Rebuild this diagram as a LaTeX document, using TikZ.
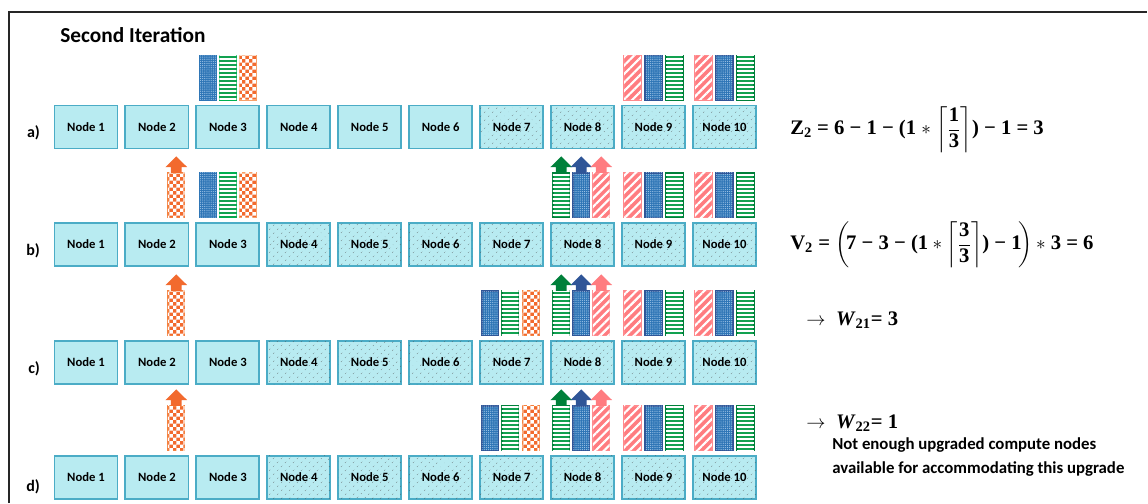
\documentclass[tikz,border=0pt]{standalone}
\usepackage[no-math]{fontspec}
\setmainfont{Carlito}
\newfontfamily\eqfont{Liberation Serif}
\usepackage{amsmath}
\usepackage{tikz}
\usetikzlibrary{positioning,patterns,patterns.meta}

\definecolor{nodefill}{HTML}{B8EBF1}
\definecolor{nodeline}{HTML}{4BACC6}
\definecolor{bluefill}{HTML}{2E75B6}
\definecolor{bluedark}{HTML}{2F5597}
\definecolor{bluedot}{HTML}{9DC3E6}
\definecolor{greenfill}{HTML}{12A150}
\definecolor{greendark}{HTML}{00803A}
\definecolor{greenlight}{HTML}{00B050}
\definecolor{orangefill}{HTML}{F26A2E}
\definecolor{orangeline}{HTML}{F4813F}
\definecolor{orangelight}{HTML}{F7A06A}
\definecolor{pinkfill}{HTML}{FF7C80}
\definecolor{pinkline}{HTML}{FF8A8D}

\pgfdeclarepatternformonly{bigchecker}{\pgfpointorigin}{\pgfqpoint{5.2pt}{5.2pt}}{\pgfqpoint{5.2pt}{5.2pt}}{%
  \pgfpathrectangle{\pgfpointorigin}{\pgfqpoint{2.6pt}{2.6pt}}%
  \pgfpathrectangle{\pgfqpoint{2.6pt}{2.6pt}}{\pgfqpoint{2.6pt}{2.6pt}}%
  \pgfusepath{fill}}

\begin{document}
\begin{tikzpicture}[
    x=0.75pt, y=-0.75pt,
    cnode/.style={draw=nodeline, fill=nodefill, line width=1.4pt, inner sep=0pt,
      minimum width=47.3pt, minimum height=32.3pt, font=\fontsize{9.5}{11}\selectfont\bfseries},
    dnode/.style={cnode, postaction={pattern={Dots[radius=0.35pt, distance=4pt, angle=45]}, pattern color=black!70}},
    bar/.style={line width=1.1pt, inner sep=0pt, minimum width=12.6pt, minimum height=33.3pt},
    bluebar/.style={bar, draw=bluedark, fill=bluefill,
      postaction={pattern={Dots[radius=0.45pt, distance=1.6pt]}, pattern color=bluedot}},
    greenbar/.style={bar, draw=greendark, fill=greenfill,
      postaction={pattern={Lines[angle=0, distance=3pt, line width=0.9pt]}, pattern color=white}},
    orangebar/.style={bar, draw=orangeline, fill=orangefill,
      postaction={pattern=bigchecker, pattern color=white}},
    pinkbar/.style={bar, draw=pinkline, fill=pinkfill,
      postaction={pattern={Lines[angle=45, distance=4.5pt, line width=1.6pt]}, pattern color=white}},
    rowlabel/.style={inner sep=1pt, font=\fontsize{12}{14}\selectfont\bfseries},
    eqn/.style={inner sep=0pt, anchor=west, font=\eqfont\fontsize{15.5}{19}\selectfont\bfseries},
    pics/uphead/.style={code={\fill[#1] (-4pt,-0.5pt) -- (-4pt,3.75pt) -- (-8.2pt,3.75pt) -- (0pt,11.8pt)
      -- (8.2pt,3.75pt) -- (4pt,3.75pt) -- (4pt,-0.5pt) -- cycle;}}
  ]
  \useasboundingbox (0,0) rectangle (1148,503);
  \draw[line width=1.5pt, black!85] (9,503) -- (9,12) -- (1147,12);

  \node[anchor=west, inner sep=0pt, font=\fontsize{16}{19}\selectfont\bfseries] (title) at (60,35) {Second Iteration};

  % compute nodes
  \foreach \i in {1,...,6} \node[cnode] (a\i) at ({86+(\i-1)*70.94},127) {Node \i};
  \foreach \i in {7,...,10} \node[dnode] (a\i) at ({86+(\i-1)*70.94},127) {Node \i};
  \foreach \r/\yy in {b/244.5,c/362.5,d/477.5} {
    \foreach \i in {1,2,3} \node[cnode] (\r\i) at ({86+(\i-1)*70.94},\yy) {Node \i};
    \foreach \i in {4,...,10} \node[dnode] (\r\i) at ({86+(\i-1)*70.94},\yy) {Node \i};
  }

  \node[rowlabel, left=9pt of a1, yshift=-4.5pt] (la) {a)};
  \node[rowlabel, left=9pt of b1, yshift=-4.5pt] (lb) {b)};
  \node[rowlabel, left=9pt of c1, yshift=-4.5pt] (lc) {c)};
  \node[rowlabel, left=9pt of d1, yshift=-7pt] (ld) {d)};

  % VMs on node 3 (a, b)
  \foreach \n in {a3,b3} {
    \node[bluebar, draw=bluefill, above=3pt of \n, xshift=-15pt] (b\n) {};
    \node[greenbar, draw=greenlight, above=3pt of \n] (g\n) {};
    \node[orangebar, draw=orangelight, above=3pt of \n, xshift=15pt] (o\n) {};
  }
  % VMs on node 7 (c, d)
  \foreach \n in {c7,d7} {
    \node[bluebar, above=3pt of \n, xshift=-16pt] (b\n) {};
    \node[greenbar, above=3pt of \n, xshift=-1pt] (g\n) {};
    \node[orangebar, above=3pt of \n, xshift=14.5pt] (o\n) {};
  }
  % VMs on nodes 9 and 10
  \foreach \n in {a9,a10,b9,b10,c9,c10,d9,d10} {
    \node[pinkbar, above=3pt of \n, xshift=-15.75pt] (p\n) {};
    \node[bluebar, above=3pt of \n] (b\n) {};
    \node[greenbar, above=3pt of \n, xshift=15.75pt] (g\n) {};
  }
  % upgraded VMs on node 8
  \foreach \n in {b8,c8,d8} {
    \node[greenbar, above=3pt of \n, xshift=-16pt] (g\n) {};
    \node[bluebar, above=3pt of \n, xshift=-1pt] (b\n) {};
    \node[pinkbar, above=3pt of \n, xshift=14pt] (p\n) {};
    \pic at (g\n.north) {uphead=greendark};
    \pic at (b\n.north) {uphead=bluedark};
    \pic at (p\n.north) {uphead=pinkfill};
  }
  % upgraded VM on node 2
  \foreach \n in {b2,c2,d2} {
    \node[orangebar, above=3pt of \n, xshift=14.5pt] (o\n) {};
    \pic at (o\n.north) {uphead=orangefill};
  }

  % equations
  \node[eqn] (zeq) at (790,130) {Z\textsubscript{2} = 6 − 1 − (1 $\ast$ $\left\lceil\dfrac{\text{1}}{\text{3}}\right\rceil$) − 1 = 3};
  \node[eqn] (veq) at (790,245) {V\textsubscript{2} = $\left(\!\text{7 − 3 − (1}\ast\left\lceil\dfrac{\text{3}}{\text{3}}\right\rceil\!\text{) − 1}\!\right)$\,$\ast$ 3 = 6};
  \node[eqn] (weqa) at (806,320) {{\mdseries\fontsize{14}{16}\selectfont$\rightarrow$}\hspace{8pt}\textit{W}\textsubscript{21}= 3};
  \node[eqn] (weqb) at (806,423) {{\mdseries\fontsize{14}{16}\selectfont$\rightarrow$}\hspace{8pt}\textit{W}\textsubscript{22}= 1};
  \node[anchor=north west, inner sep=0pt, align=left, font=\fontsize{12.6}{18}\selectfont\bfseries]
    (note) at (832,437) {Not enough upgraded compute nodes\\available for accommodating this upgrade};
\end{tikzpicture}
\end{document}
